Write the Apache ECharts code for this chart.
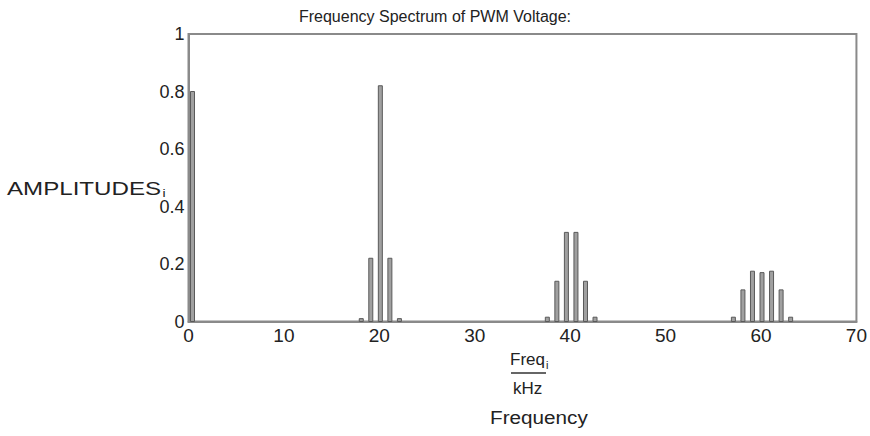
<!DOCTYPE html>
<html>
<head>
<meta charset="utf-8">
<script src="https://cdn.jsdelivr.net/npm/echarts@6/dist/echarts.min.js"></script>
<style>html,body{margin:0;padding:0;background:#fff}#c{width:870px;height:436px}</style>
</head>
<body>
<div id="c"></div>
<script>
// Frequencies (kHz) of spectral lines and their amplitudes
const freq = [0, 18, 19, 20, 21, 22, 37.5, 38.5, 39.5, 40.5, 41.5, 42.5, 57, 58, 59, 60, 61, 62, 63];
const amp  = [0.80, 0.01, 0.22, 0.82, 0.22, 0.01, 0.015, 0.14, 0.31, 0.31, 0.14, 0.015, 0.015, 0.11, 0.175, 0.17, 0.175, 0.11, 0.015];
const xTicks = [0, 10, 20, 30, 40, 50, 60, 70];
const yTicks = [0, 0.2, 0.4, 0.6, 0.8, 1];
const titleText = 'Frequency Spectrum of PWM Voltage:';

const FONT = '"Liberation Sans", Arial, Helvetica, sans-serif';
const chart = echarts.init(document.getElementById('c'), null, {renderer: 'svg'});
const data = freq.map((f, i) => [f, amp[i]]);

chart.setOption({
  animation: false,
  backgroundColor: '#fff',
  title: {
    text: titleText, left: 'center', top: 3,
    textStyle: {fontFamily: FONT, fontSize: 16, fontWeight: 'normal', color: '#222'}
  },
  grid: {left: 188.5, right: 8.5, top: 34, bottom: 114.5, show: true, borderColor: '#8a8a8a', borderWidth: 2, backgroundColor: 'transparent'},
  xAxis: {
    type: 'value', min: xTicks[0], max: xTicks[xTicks.length - 1], interval: 10,
    axisLine: {show: true, lineStyle: {color: '#8a8a8a', width: 2}},
    axisTick: {show: false}, splitLine: {show: false},
    axisLabel: {fontFamily: FONT, fontSize: 19, color: '#222', margin: 4}
  },
  yAxis: {
    type: 'value', min: yTicks[0], max: yTicks[yTicks.length - 1], interval: 0.2,
    axisLine: {show: true, lineStyle: {color: '#8a8a8a', width: 2}},
    axisTick: {show: false}, splitLine: {show: false},
    axisLabel: {fontFamily: FONT, fontSize: 18, color: '#222', margin: 4}
  },
  series: [{
    type: 'custom',
    data: data,
    encode: {x: 0, y: 1},
    renderItem: function (params, api) {
      const x = api.value(0), y = api.value(1);
      const p0 = api.coord([x, 0]);
      const p1 = api.coord([x, y]);
      const w = 4;
      let left = p0[0] - w / 2 + 1;
      const gl = params.coordSys.x;
      if (left < gl + 2) left = gl + 2;
      return {
        type: 'rect',
        shape: {x: left, y: p1[1], width: w, height: Math.max(p0[1] - p1[1], 2)},
        style: {fill: '#a0a0a0', stroke: '#5a5a5a', lineWidth: 1}
      };
    }
  }],
  graphic: [
    {type: 'text', x: 7, y: 178, scaleX: 1.27,
     style: {text: '{a|AMPLITUDES}{b|i}', rich: {
       a: {fontFamily: FONT, fontSize: 19, fill: '#222'},
       b: {fontFamily: FONT, fontSize: 11, fill: '#222', padding: [10, 0, 0, 1]}
     }}},
    {type: 'text', left: 510, top: 351,
     style: {text: '{a|Freq}{b|i}', rich: {
       a: {fontFamily: FONT, fontSize: 17, fill: '#222'},
       b: {fontFamily: FONT, fontSize: 11, fill: '#222', padding: [10, 0, 0, 1]}
     }}},
    {type: 'line', shape: {x1: 511, y1: 373, x2: 546, y2: 373}, style: {stroke: '#333', lineWidth: 1.5}},
    {type: 'text', left: 513, top: 380, style: {text: 'kHz', fontFamily: FONT, fontSize: 17, fill: '#222'}},
    {type: 'text', x: 490, y: 408, scaleX: 1.09, style: {text: 'Frequency', fontFamily: FONT, fontSize: 19, fill: '#222'}}
  ]
});
</script>
</body>
</html>
